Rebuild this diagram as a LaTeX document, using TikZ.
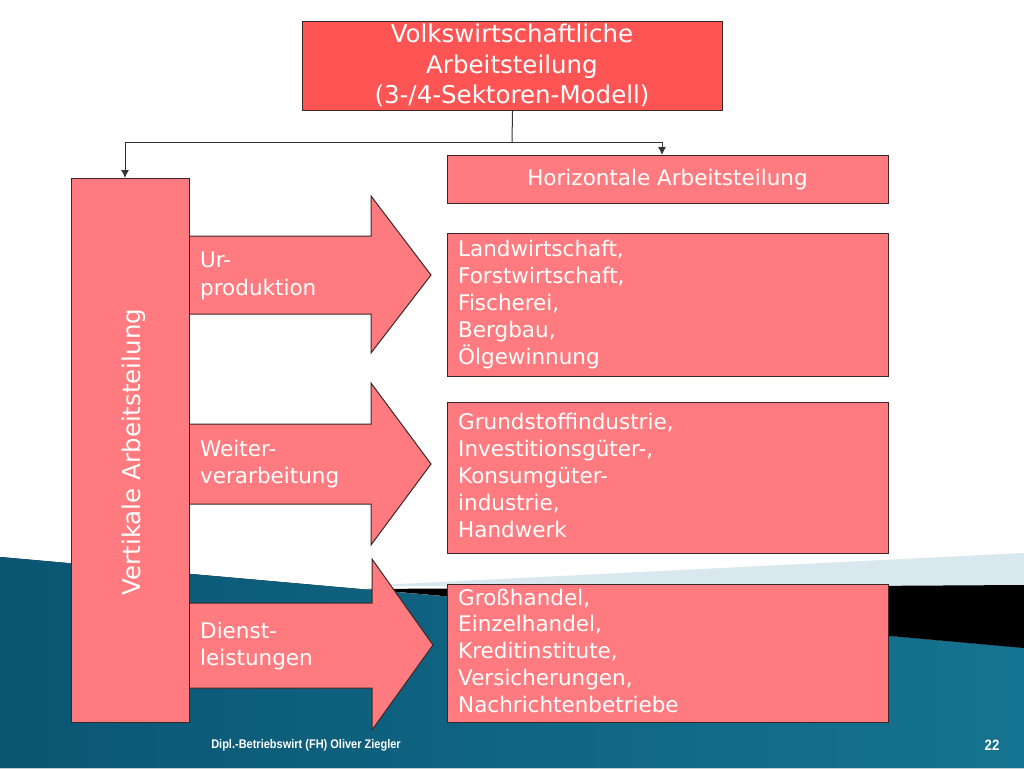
\documentclass[tikz,border=0pt]{standalone}
\usepackage{fontspec}
\setmainfont{DejaVu Sans}
\newfontfamily\footfont[FakeStretch=0.88]{Liberation Sans}
\usetikzlibrary{arrows.meta}
\definecolor{boxred}{HTML}{FF5454}
\definecolor{boxsalmon}{HTML}{FF7B7F}
\definecolor{edgecol}{HTML}{3A2828}
\definecolor{tealdark}{HTML}{0A5673}
\definecolor{teallight}{HTML}{4AAECB}
\definecolor{tealright}{HTML}{157491}
\definecolor{paleband}{HTML}{D9E7EF}
\begin{document}
\begin{tikzpicture}[x=1pt,y=-1pt,
  box/.style={draw=edgecol, line width=1pt, inner sep=0pt, anchor=north west, fill=boxsalmon},
  lbl/.style={inner sep=0pt, anchor=base west, text=white},
  blockarrow/.style={draw=edgecol, line width=1pt, fill=boxsalmon, line join=miter},
  conn/.style={draw=black!80, line width=1pt},
  tip/.style={-{Latex[length=8pt,width=8pt]}},
  bodyfont/.style={font=\fontsize{21.5}{27}\selectfont}
]
\useasboundingbox (0,0) rectangle (1024,768);
% background
\fill[white] (0,0) rectangle (1024,768);
\fill[left color=tealdark, middle color=teallight, right color=tealright]
  (0,557) -- (1024,648) -- (1024,768) -- (0,768) -- cycle;
\fill[paleband] (360,586) -- (1024,553) -- (1024,586) -- cycle;
\fill[black] (365,589) -- (1024,585) -- (1024,648) -- cycle;

% block arrows
\draw[blockarrow] (185,236) -- (371,236) -- (371,196) -- (431,275) -- (371,353) -- (371,314) -- (185,314) -- cycle;
\draw[blockarrow] (185,424) -- (371,424) -- (371,383) -- (431,464) -- (371,545) -- (371,504) -- (185,504) -- cycle;
\draw[blockarrow] (185,603) -- (372,603) -- (372,559) -- (433,645) -- (372,730) -- (372,688) -- (185,688) -- cycle;

% boxes
\node[box, fill=boxred, minimum width=420pt, minimum height=89pt] (top) at (302,21) {};
\node[box, minimum width=441pt, minimum height=48pt] (horiz) at (447,155) {};
\node[box, minimum width=118pt, minimum height=544pt] (vert) at (71,178) {};
\node[box, minimum width=441pt, minimum height=143pt] (prim) at (447,233) {};
\node[box, minimum width=441pt, minimum height=151pt] (sec) at (447,402) {};
\node[box, minimum width=441pt, minimum height=138pt] (tert) at (447,584) {};

% connectors
\coordinate (j) at (512,142);
\coordinate (jl) at (125,142);
\coordinate (jr) at (662,142);
\draw[conn] (top.south) -- (j);
\draw[conn] (jl) -- (jr);
\draw[conn, tip] (jl) -- (jl |- vert.north);
\draw[conn, tip] (jr) -- (jr |- horiz.north);

% texts
\node[lbl, anchor=base] (toptxt) at (512,42) {\parbox[t]{420pt}{\centering\fontsize{24.5}{31}\selectfont Volkswirtschaftliche\\Arbeitsteilung\\(3-/4-Sektoren-Modell)}};
\node[lbl, anchor=base, font=\fontsize{21.5}{27}\selectfont] (horiztxt) at (667.5,185) {Horizontale Arbeitsteilung};
\node[text=white, inner sep=0pt, rotate=90, anchor=base, font=\fontsize{24.5}{30}\selectfont] (verttxt) at (140,452) {Vertikale Arbeitsteilung};

\node[lbl] (urtxt) at (200,267) {\parbox[t]{168pt}{\raggedright\fontsize{21.5}{28}\selectfont Ur-\\produktion}};
\node[lbl] (weitxt) at (200,456) {\parbox[t]{168pt}{\raggedright\fontsize{21.5}{27}\selectfont Weiter-\\verarbeitung}};
\node[lbl] (dientxt) at (200,638) {\parbox[t]{168pt}{\raggedright\fontsize{21.5}{27}\selectfont Dienst-\\leistungen}};

\node[lbl] (primtxt) at (458,256) {\parbox[t]{420pt}{\raggedright\fontsize{21.5}{27}\selectfont Landwirtschaft,\\Forstwirtschaft,\\Fischerei,\\Bergbau,\\Ölgewinnung}};
\node[lbl] (sectxt) at (458,429) {\parbox[t]{420pt}{\raggedright\fontsize{21.5}{27}\selectfont Grundstoffindustrie,\\Investitionsgüter-,\\Konsumgüter-\\industrie,\\Handwerk}};
\node[lbl] (terttxt) at (458,605) {\parbox[t]{420pt}{\raggedright\fontsize{21.5}{26.8}\selectfont Großhandel,\\Einzelhandel,\\Kreditinstitute,\\Versicherungen,\\Nachrichtenbetriebe}};

% footer
\node[text=white, inner sep=0pt, anchor=base] (foot) at (306,748) {\footfont\bfseries\fontsize{12.5}{14}\selectfont Dipl.-Betriebswirt (FH) Oliver Ziegler};
\node[text=white, inner sep=0pt, anchor=base] (pagenum) at (992,750) {\footfont\bfseries\fontsize{15}{17}\selectfont 22};
\end{tikzpicture}
\end{document}
